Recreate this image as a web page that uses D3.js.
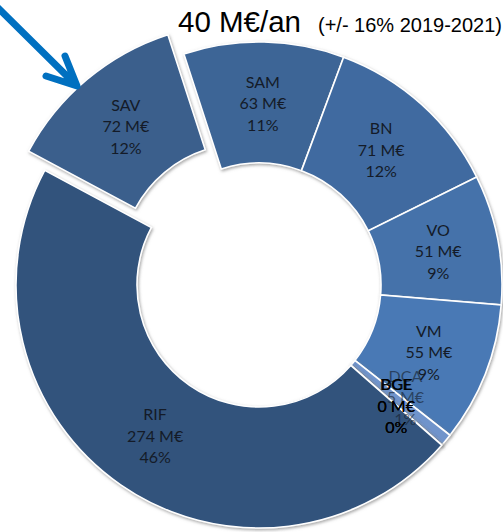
<!DOCTYPE html>
<html><head><meta charset="utf-8">
<script src="https://cdn.jsdelivr.net/npm/d3@7"></script>
<style>body{margin:0;background:#fff;overflow:hidden}</style>
</head><body><svg id="c" width="503" height="532"></svg>
<script>
const categories = ["SAM","BN","VO","VM","DCA","DGE","BCE","BGE","RIF","SAV"];
const values = [63,71,51,55,5,0,0,0,274,72];
const colors = ["#3e6596","#416ba0","#4572aa","#4a79b5","#7094cb","#7094cb","#7094cb","#7094cb","#30527c","#3a5e8c"];
const explode = [0,0,0,0,0,0,0,0,0,25];
const titleMain = "40 M€/an";
const titleSub = "(+/- 16% 2019-2021)";

const svg = d3.select("#c");
const cx = 259, cy = 285, rOut = 243, rIn = 122;
const total = d3.sum(values);
const data = categories.map((c,i)=>({cat:c, value:values[i], color:colors[i], explode:explode[i]}));

const defs = svg.append("defs");
const f = defs.append("filter").attr("id","sh").attr("x","-10%").attr("y","-10%").attr("width","120%").attr("height","120%");
f.append("feDropShadow").attr("dx",1).attr("dy",1.5).attr("stdDeviation",1.6).attr("flood-color","#808080").attr("flood-opacity",0.7);

const start = -18 * Math.PI/180;
const pie = d3.pie().sort(null).value(d=>d.value).startAngle(start).endAngle(start + 2*Math.PI);
const arcs = pie(data);
const arc = d3.arc().innerRadius(rIn).outerRadius(rOut);

const g = svg.append("g").attr("transform",`translate(${cx},${cy})`);
function offset(d){
  const a = (d.startAngle + d.endAngle)/2;
  const e = d.data.explode;
  return [Math.sin(a)*e, -Math.cos(a)*e];
}
g.selectAll("path.slice").data(arcs).join("path")
  .attr("class","slice")
  .attr("d",arc)
  .attr("transform",d=>{const o=offset(d);return `translate(${o[0]},${o[1]})`;})
  .attr("fill",d=>d.data.color)
  .attr("stroke","#fff").attr("stroke-width",1.6)
  .attr("filter","url(#sh)");

const fmtPct = v => Math.round(v/total*100) + "%";
const lbl = g.selectAll("text.lbl").data(arcs).join("text")
  .attr("class","lbl")
  .attr("transform",d=>{const c=arc.centroid(d);const o=offset(d);
     const dx = d.data.cat==="DCA"?6:0, dy = d.data.cat==="DCA"?-5:0;
     return `translate(${c[0]+o[0]+dx},${c[1]+o[1]+dy})`;})
  .attr("text-anchor","middle")
  .attr("font-family","Lato, 'Open Sans', sans-serif")
  .attr("font-size",16)
  .attr("fill",d=>d.data.value===0?"#000":"#141b28")
  .attr("fill-opacity",d=>d.data.cat==="DCA"?0.6:(d.data.value===0?0.8:1));
lbl.each(function(d){
  const t = d3.select(this);
  const lines = [d.data.cat, d.data.value + " M€", fmtPct(d.data.value)];
  lines.forEach((s,i)=>{
    t.append("tspan").attr("x",0).attr("y",(i-1)*21.5).attr("dominant-baseline","central").text(s);
  });
});

// title
svg.append("text").attr("x",178).attr("y",32)
  .attr("font-family","'Liberation Sans', Arial, sans-serif").attr("font-size",29.5).attr("fill","#000")
  .text(titleMain);
svg.append("text").attr("x",318).attr("y",32)
  .attr("font-family","'Liberation Sans', Arial, sans-serif").attr("font-size",20).attr("fill","#000")
  .text(titleSub);

// arrow annotation
svg.append("path")
  .attr("d","M-6,4 L76,85 M65,56 L77,86 L46,76")
  .attr("fill","none").attr("stroke","#0070c0").attr("stroke-width",7)
  .attr("stroke-linecap","round").attr("stroke-linejoin","round");
</script></body></html>
